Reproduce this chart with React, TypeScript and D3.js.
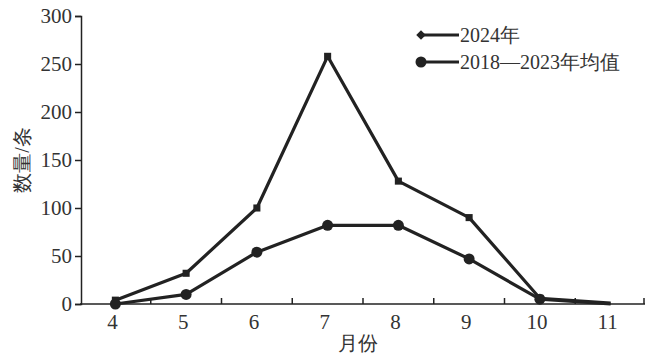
import React, { useRef, useEffect } from "react";
import * as d3 from "d3";

const months = [4, 5, 6, 7, 8, 9, 10, 11];
const values2024 = [4, 32, 100, 258, 128, 90, 6, 1];
const valuesAvg = [0, 10, 54, 82, 82, 47, 5, 0];
const yTicks = [0, 50, 100, 150, 200, 250, 300];
const seriesNames = ["2024年", "2018—2023年均值"];

const W = 645;
const H = 354;
const ink = "#222";
const textColor = "#333";
const font = "'Times New Roman', 'Liberation Serif', 'DejaVu Serif', serif";

export default function App() {
  const svgRef = useRef<SVGSVGElement>(null);

  useEffect(() => {
    const svg = d3.select(svgRef.current);
    svg.selectAll("*").remove();

    const x = d3.scaleBand<number>().domain(months).range([80, 646]);
    const y = d3.scaleLinear().domain([0, 300]).range([304, 16]);
    const cx = (m: number) => (x(m) as number) + x.bandwidth() / 2;

    // y axis
    const gy = svg.append("g").attr("transform", "translate(81,0)")
      .call(d3.axisLeft(y).tickValues(yTicks).tickSize(6).tickPadding(3));
    gy.attr("font-family", null).attr("font-size", 21);
    gy.select(".domain").attr("stroke", ink).attr("stroke-width", 1.5);
    gy.selectAll(".tick line").attr("stroke", ink).attr("stroke-width", 1.5);
    gy.selectAll(".tick text").attr("fill", textColor);

    // x axis: ticks between categories pointing up
    const gx = svg.append("g").attr("transform", "translate(0,304)").attr("font-size", 21);
    gx.append("line").attr("x1", 80).attr("x2", W).attr("stroke", ink).attr("stroke-width", 1.5);
    months.slice(1).concat([12]).forEach((m, i) => {
      const bx = i < months.length - 1 ? (x(m) as number) : 644;
      gx.append("line").attr("x1", bx).attr("x2", bx).attr("y1", 0).attr("y2", -6)
        .attr("stroke", ink).attr("stroke-width", 1.5);
    });
    gx.selectAll("text.xt").data(months).join("text")
      .attr("x", d => cx(d) - 3).attr("y", 25)
      .attr("text-anchor", "middle")
      .attr("fill", textColor)
      .text(d => d);

    const labels = svg.append("g").attr("fill", textColor);
    labels.append("text").attr("x", 358).attr("y", 350).attr("text-anchor", "middle").text("月份");
    labels.append("text").attr("transform", "translate(29,160) rotate(-90)").attr("text-anchor", "middle").text("数量/条");

    const line = d3.line<number>().x((d, i) => cx(months[i])).y(d => y(d));

    [values2024, valuesAvg].forEach(vals => {
      svg.append("path").attr("d", line(vals) as string).attr("fill", "none")
        .attr("stroke", ink).attr("stroke-width", 3.2).attr("stroke-linejoin", "round");
    });

    // markers (none shown at month 11)
    const marked = months.map((m, i) => i).filter(i => months[i] <= 10);
    svg.selectAll("path.sq").data(marked).join("path")
      .attr("d", d3.symbol(d3.symbolSquare, 50) as any)
      .attr("transform", i => `translate(${cx(months[i])},${y(values2024[i])})`)
      .attr("fill", ink);
    svg.selectAll("circle.dot").data(marked).join("circle")
      .attr("cx", i => cx(months[i])).attr("cy", i => y(valuesAvg[i])).attr("r", 5.5)
      .attr("fill", ink);

    // legend
    const lg = svg.append("g");
    const rows = [35, 62];
    rows.forEach((ly, i) => {
      lg.append("line").attr("x1", 420).attr("x2", 459).attr("y1", ly).attr("y2", ly)
        .attr("stroke", ink).attr("stroke-width", 3);
      if (i === 0) {
        lg.append("path").attr("d", d3.symbol(d3.symbolSquare, 45)() as string)
          .attr("transform", `translate(421,${ly}) rotate(45)`).attr("fill", ink);
      } else {
        lg.append("circle").attr("cx", 421).attr("cy", ly).attr("r", 5.5).attr("fill", ink);
      }
      lg.append("text").attr("x", 460).attr("y", ly + 7)
        .attr("fill", textColor)
        .text(seriesNames[i]);
    });
  }, []);

  return (
    <svg ref={svgRef} width={W} height={H}
      style={{ position: "absolute", left: 0, top: 0, background: "#fff", fontFamily: font, fontSize: 20 }} />
  );
}
